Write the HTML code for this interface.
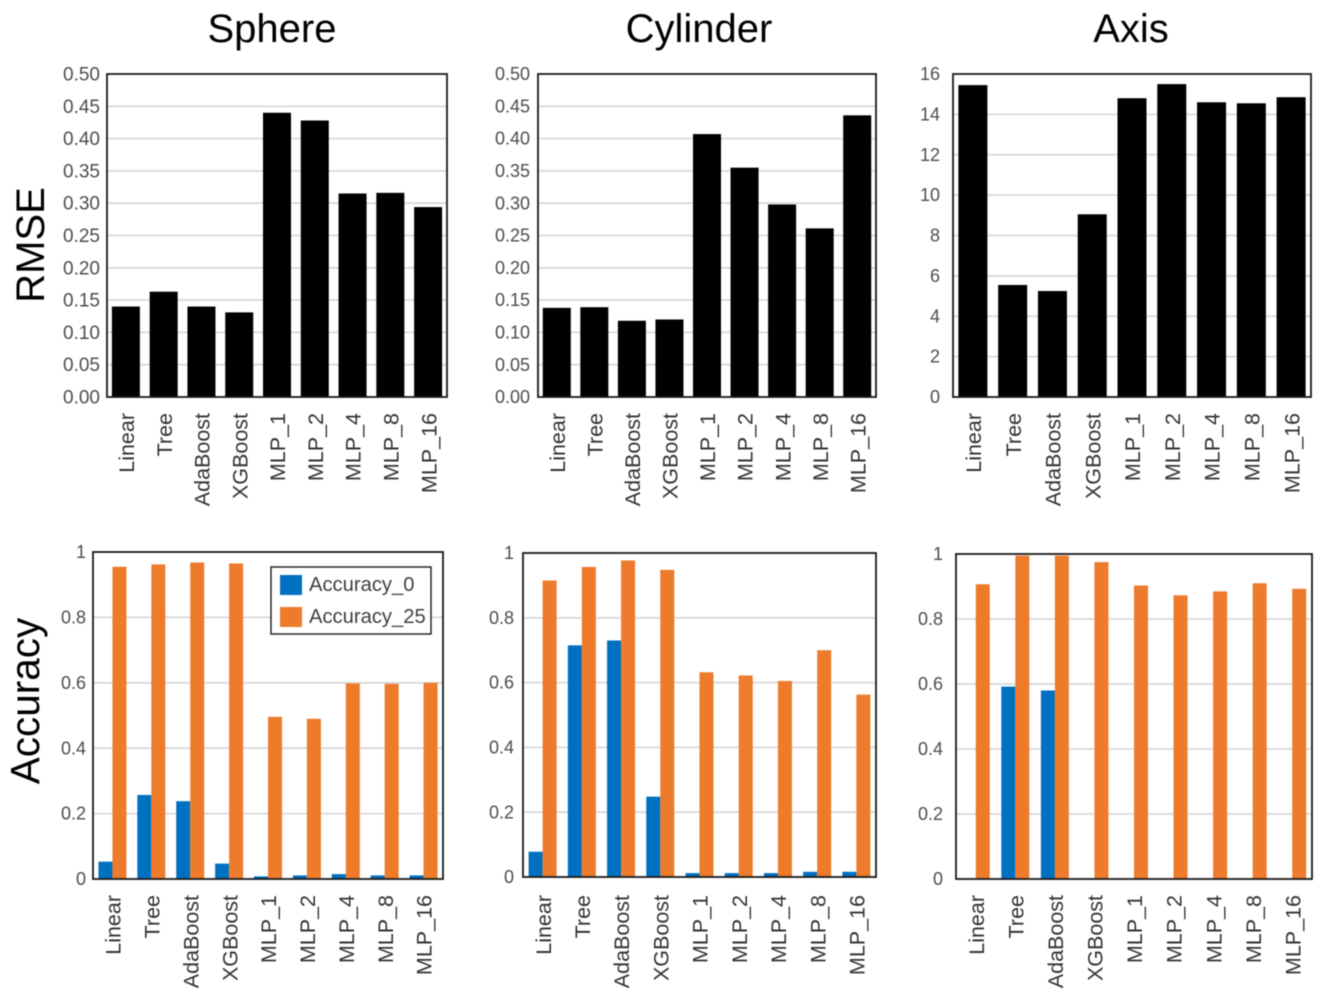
<!DOCTYPE html>
<html lang="en">
<head>
<meta charset="utf-8">
<title>RMSE and Accuracy by Model</title>
<style>
html,body{margin:0;padding:0;background:#fff;width:1325px;height:1002px;overflow:hidden}
svg{display:block;filter:blur(0.5px)}
text{font-family:"Liberation Sans",sans-serif}
</style>
</head>
<body>
<svg id="figure" xmlns="http://www.w3.org/2000/svg" width="1325" height="1002" viewBox="0 0 1325 1002">
  <text x="272" y="42" font-size="40" text-anchor="middle" fill="#000">Sphere</text>
  <text x="699" y="42" font-size="40" text-anchor="middle" fill="#000">Cylinder</text>
  <text x="1131" y="42" font-size="40" text-anchor="middle" fill="#000">Axis</text>
  <text transform="translate(44 245) rotate(-90)" font-size="40" text-anchor="middle" fill="#000">RMSE</text>
  <text transform="translate(39 701) rotate(-90)" font-size="40.5" text-anchor="middle" fill="#000">Accuracy</text>
</svg>
<script>
const categories = ["Linear","Tree","AdaBoost","XGBoost","MLP_1","MLP_2","MLP_4","MLP_8","MLP_16"];

const rmseTicks = ["0.00","0.05","0.10","0.15","0.20","0.25","0.30","0.35","0.40","0.45","0.50"];
const axisRmseTicks = ["0","2","4","6","8","10","12","14","16"];
const accuracyTicks = ["0","0.2","0.4","0.6","0.8","1"];

const sphereRmse = [0.140,0.163,0.140,0.131,0.440,0.428,0.315,0.316,0.294];
const cylinderRmse = [0.138,0.139,0.118,0.120,0.407,0.355,0.298,0.261,0.436];
const axisRmse = [15.45,5.55,5.25,9.05,14.8,15.5,14.6,14.55,14.85];

const sphereAccuracy0 = [0.053,0.257,0.238,0.047,0.008,0.011,0.015,0.011,0.011];
const sphereAccuracy25 = [0.955,0.962,0.968,0.965,0.496,0.490,0.598,0.597,0.600];
const cylinderAccuracy0 = [0.078,0.715,0.730,0.248,0.012,0.012,0.012,0.016,0.016];
const cylinderAccuracy25 = [0.915,0.957,0.977,0.948,0.632,0.622,0.605,0.700,0.563];
const axisAccuracy0 = [0.001,0.592,0.580,0.002,0,0,0,0,0];
const axisAccuracy25 = [0.907,0.995,0.995,0.975,0.903,0.873,0.885,0.910,0.893];

const legendLabels = ["Accuracy_0","Accuracy_25"];

const svg = document.getElementById('figure');
const NS = 'http://www.w3.org/2000/svg';
const BLUE = '#0070c0';
const ORANGE = '#ee7b2c';

function make(tag, attrs, parent) {
  const el = document.createElementNS(NS, tag);
  for (const k in attrs) el.setAttribute(k, attrs[k]);
  parent.appendChild(el);
  return el;
}

function linearScale(d0, d1, r0, r1) {
  return function (v) { return r0 + (v - d0) / (d1 - d0) * (r1 - r0); };
}

function drawPanel(id, box, ticks, yMax, seriesList, colors, barWidth, tickRight, labelTop, labelSize, tickSize) {
  const g = make('g', {}, svg);
  
  
  const y = linearScale(0, yMax, box.bottom, box.top);
  const band = (box.right - box.left) / categories.length;
  const xCenter = function (i) { return box.left + band * (i + 0.5); };

  ticks.forEach(function (t) {
    const v = parseFloat(t);
    if (v > 0 && v < yMax) {
      const grid = make('line', {x1: box.left, x2: box.right, y1: y(v), y2: y(v), stroke: '#d9d9d9', 'stroke-width': 1.8}, g);
      
      
    }
    const label = make('text', {x: tickRight, y: y(v) + tickSize * 0.34, 'font-size': tickSize, 'text-anchor': 'end', fill: '#4d4d4d'}, g);
    label.textContent = t;
    
    
  });

  const n = seriesList.length;
  seriesList.forEach(function (values, s) {
    values.forEach(function (v, i) {
      const x = xCenter(i) - (n * barWidth) / 2 + s * barWidth;
      const bar = make('rect', {x: x, y: y(v), width: barWidth, height: box.bottom - y(v), fill: colors[s]}, g);
      
      
    });
  });

  const frame = make('rect', {x: box.left, y: box.top, width: box.right - box.left, height: box.bottom - box.top, fill: 'none', stroke: '#1a1a1a', 'stroke-width': 1.8}, g);
  
  

  categories.forEach(function (c, i) {
    const bx = xCenter(i) + labelSize * 0.38;
    const label = make('text', {transform: 'translate(' + bx + ' ' + labelTop + ') rotate(-90)', 'font-size': labelSize, 'text-anchor': 'end', fill: '#333333'}, g);
    label.textContent = c;
    
    
  });
}

drawPanel('sphere-rmse', {left:107, right:447, top:74, bottom:397}, rmseTicks, 0.5, [sphereRmse], ['#000'], 28, 100, 413, 21.5, 19);
drawPanel('cylinder-rmse', {left:538, right:876, top:74, bottom:397}, rmseTicks, 0.5, [cylinderRmse], ['#000'], 28, 530, 413, 21.5, 18);
drawPanel('axis-rmse', {left:953, right:1311, top:74, bottom:397}, axisRmseTicks, 16, [axisRmse], ['#000'], 29, 940, 413, 21.5, 18);
drawPanel('sphere-accuracy', {left:93, right:443, top:552, bottom:879}, accuracyTicks, 1, [sphereAccuracy0, sphereAccuracy25], [BLUE, ORANGE], 14, 86, 895, 21.5, 18);
drawPanel('cylinder-accuracy', {left:523, right:876, top:553, bottom:877}, accuracyTicks, 1, [cylinderAccuracy0, cylinderAccuracy25], [BLUE, ORANGE], 14, 514, 895, 21.5, 18);
drawPanel('axis-accuracy', {left:956, right:1312, top:554, bottom:879}, accuracyTicks, 1, [axisAccuracy0, axisAccuracy25], [BLUE, ORANGE], 14, 943, 895, 21.5, 18);

const legend = make('g', {}, svg);


const legendBox = make('rect', {x: 271, y: 567, width: 160, height: 67, fill: '#fff', stroke: '#1a1a1a', 'stroke-width': 1.4}, legend);


legendLabels.forEach(function (name, i) {
  const swatch = make('rect', {x: 280, y: 575 + i * 32, width: 22, height: 20, fill: [BLUE, ORANGE][i]}, legend);
  
  
  const label = make('text', {x: 309, y: 591 + i * 32, 'font-size': 20.2, fill: '#404040'}, legend);
  label.textContent = name;
  
  
});
</script>
</body>
</html>
